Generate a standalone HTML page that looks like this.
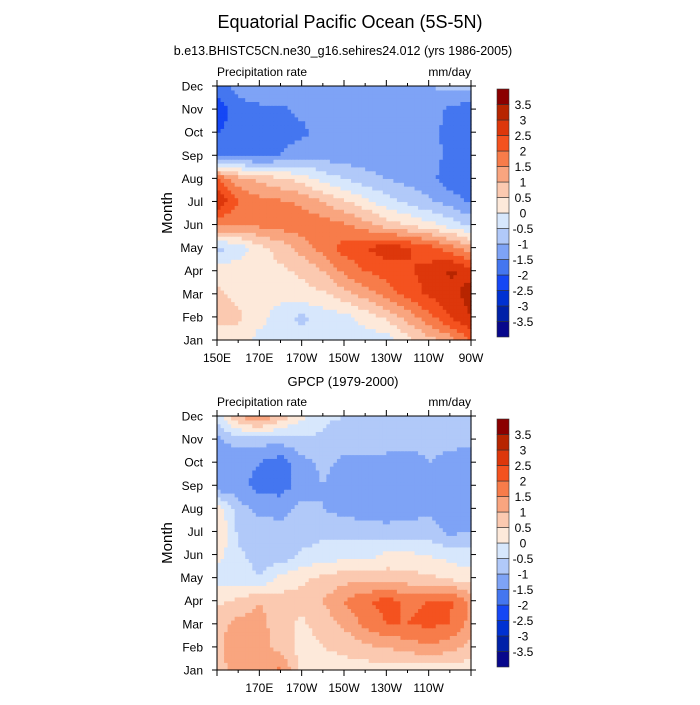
<!DOCTYPE html>
<html><head><meta charset="utf-8">
<style>
body{margin:0;background:#fff;}
svg text{font-family:"Liberation Sans",sans-serif;fill:#000;}
</style></head>
<body>
<svg id="chart" width="700" height="700" viewBox="0 0 700 700">
<text x="350" y="28" font-size="18" text-anchor="middle">Equatorial Pacific Ocean (5S-5N)</text>
<text x="343" y="55" font-size="12.5" text-anchor="middle">b.e13.BHISTC5CN.ne30_g16.sehires24.012 (yrs 1986-2005)</text>
<text x="343" y="386" font-size="13" text-anchor="middle">GPCP (1979-2000)</text>
<g id="p1"></g>
<g id="p2"></g>
</svg>
<script>
const months = ["Jan","Feb","Mar","Apr","May","Jun","Jul","Aug","Sep","Oct","Nov","Dec"];
const lons = [150,160,170,180,190,200,210,220,230,240,250,260,270];
const levels = [-3.5,-3,-2.5,-2,-1.5,-1,-0.5,0,0.5,1,1.5,2,2.5,3,3.5];
const levelLabels = ["-3.5","-3","-2.5","-2","-1.5","-1","-0.5","0","0.5","1","1.5","2","2.5","3","3.5"];
const colors = ["#08088c","#0021a8","#0031d2","#1547f5","#4476f0","#7ea3f6","#b1c9f9","#d7e7fc","#fde9da","#fbc9b0","#f9a57f","#f77c4a","#f4521f","#dd370b","#b72500","#8b0000"];
const xTickLons = [150,170,190,210,230,250,270];
const xTickLabels1 = ["150E","170E","170W","150W","130W","110W","90W"];
const xTickLabels2 = ["","170E","170W","150W","130W","110W",""];
const modelVals = [
[0.2,0.2,-0.2,-0.3,-0.3,-0.3,-0.3,-0.3,-0.3,0.3,0.8,1.2,2.0],
[0.7,0.6,0.2,-0.3,-0.6,-0.3,-0.2,0.2,0.6,1.2,1.8,2.5,3.0],
[0.6,0.4,0.2,0.2,0.3,0.4,0.8,1.2,1.7,2.2,2.6,2.8,3.2],
[0.3,0.3,0.3,0.4,0.6,1.0,1.6,2.0,2.2,2.4,2.7,3.1,2.8],
[-0.7,-0.3,0.3,0.7,1.2,1.7,2.2,2.5,2.8,2.6,2.2,1.8,1.2],
[1.6,1.5,1.6,1.7,1.8,1.8,1.6,1.2,0.8,0.5,0.2,-0.2,-0.6],
[3.0,2.0,1.7,1.6,1.4,1.0,0.6,0.2,-0.3,-0.6,-0.9,-1.2,-1.6],
[2.0,1.2,0.9,0.6,0.3,-0.2,-0.5,-0.8,-1.0,-1.2,-1.3,-1.8,-2.0],
[-1.6,-1.6,-1.7,-1.5,-1.2,-1.2,-1.3,-1.3,-1.3,-1.3,-1.3,-1.6,-2.0],
[-2.0,-1.9,-1.8,-1.7,-1.6,-1.4,-1.3,-1.3,-1.3,-1.3,-1.3,-1.7,-2.0],
[-2.3,-1.7,-1.6,-1.6,-1.4,-1.2,-1.2,-1.2,-1.2,-1.2,-1.2,-1.6,-1.8],
[-1.7,-1.3,-1.2,-1.0,-1.0,-1.2,-1.2,-1.1,-1.0,-1.0,-1.0,-0.9,-0.9]];
const obsVals = [
[0.8,1.2,1.4,1.6,0.3,0.3,0.3,0.2,0.2,0.2,0.2,0.2,0.2],
[0.9,1.3,1.2,0.8,0.3,0.5,0.6,0.9,1.0,1.2,1.4,1.2,0.8],
[0.8,1.2,1.2,0.7,0.4,0.7,1.1,1.6,2.0,2.0,2.1,2.0,1.3],
[0.4,0.6,1.0,0.7,0.7,1.0,1.5,1.9,2.2,1.9,2.0,2.1,1.4],
[-0.3,-0.2,-0.5,0.2,0.4,0.6,0.8,0.8,0.8,0.7,0.6,0.4,0.2],
[0.2,-0.4,-0.7,-0.9,-0.4,-0.3,-0.2,-0.2,0.1,0.1,0.0,-0.2,-0.3],
[0.6,-0.6,-0.8,-0.9,-0.8,-0.6,-0.6,-0.7,-0.8,-0.8,-0.8,-1.1,-1.0],
[0.4,-0.8,-1.1,-1.1,-0.9,-1.0,-1.2,-1.3,-1.3,-1.2,-1.1,-1.3,-1.0],
[-1.4,-1.3,-1.7,-1.8,-1.2,-1.0,-1.2,-1.4,-1.4,-1.4,-1.1,-1.4,-1.1],
[-1.2,-1.3,-1.5,-1.8,-1.2,-0.9,-1.1,-1.2,-1.2,-1.3,-1.0,-1.2,-1.3],
[-1.1,-0.8,-0.8,-0.8,-0.6,-0.6,-0.8,-0.7,-0.7,-0.8,-0.8,-0.8,-0.9],
[-0.4,1.0,1.6,0.8,0.1,-0.4,-0.5,-0.5,-0.6,-0.6,-0.6,-0.6,-0.6]];

const NS="http://www.w3.org/2000/svg";
function mk(tag,attrs,parent){const e=document.createElementNS(NS,tag);for(const k in attrs)e.setAttribute(k,attrs[k]);parent.appendChild(e);return e;}
function colorFor(v){let i=0;while(i<levels.length&&v>=levels[i])i++;return colors[i];}

function panel(g,vals,top,xLabels){
  const L=217,R=471,T=top,B=top+254;
  const xs=lon=>L+(lon-lons[0])/(lons[lons.length-1]-lons[0])*(R-L);
  const ys=m=>B-m/(months.length-1)*(B-T);
  const sub=6;
  const nx=(lons.length-1)*sub, ny=(months.length-1)*sub;
  const dx=(R-L)/nx, dy=(B-T)/ny;
  const cg=mk('g',{},g);
  
  
  for(let j=0;j<ny;j++){
    for(let i=0;i<nx;i++){
      const fx=(i+0.5)/sub, fy=(j+0.5)/sub;
      const i0=Math.floor(fx), j0=Math.floor(fy), tx=fx-i0, ty=fy-j0;
      const v=(1-tx)*(1-ty)*vals[j0][i0]+tx*(1-ty)*vals[j0][i0+1]+(1-tx)*ty*vals[j0+1][i0]+tx*ty*vals[j0+1][i0+1];
      const lon=lons[0]+fx*(lons[1]-lons[0]);
      const x0=xs(lons[0]+i/sub*(lons[1]-lons[0]));
      const y1=ys(j/sub);
      const r=mk('rect',{x:x0.toFixed(2),y:(y1-dy).toFixed(2),width:(dx+0.6).toFixed(2),height:(dy+0.6).toFixed(2),fill:colorFor(v)},cg);
      
      
    }
  }
  const f=mk('rect',{x:L,y:T,width:R-L,height:B-T,fill:'none',stroke:'#000','stroke-width':1},g);
  
  
  months.forEach((m,k)=>{
    const y=ys(k);
    mk('line',{x1:L-5,x2:L,y1:y,y2:y,stroke:'#000'},g);
    mk('line',{x1:R,x2:R+5,y1:y,y2:y,stroke:'#000'},g);
    const t=mk('text',{x:L-14,y:y+4.5,'font-size':12,'text-anchor':'end'},g);
    t.textContent=m;
    
    
  });
  for(let lon=150;lon<=270;lon+=10){
    const x=xs(lon), maj=(lon-150)%20===0, len=maj?6:3;
    mk('line',{x1:x,x2:x,y1:B,y2:B+len,stroke:'#000'},g);
    mk('line',{x1:x,x2:x,y1:T-len,y2:T,stroke:'#000'},g);
  }
  xTickLons.forEach((lon,k)=>{
    if(!xLabels[k])return;
    const t=mk('text',{x:xs(lon),y:B+22,'font-size':12,'text-anchor':'middle'},g);
    t.textContent=xLabels[k];
    
    
  });
  const yt=mk('text',{x:0,y:0,'font-size':15,'text-anchor':'middle',transform:`translate(172,${(T+B)/2}) rotate(-90)`},g);
  yt.textContent='Month';
  
  
  const pl=mk('text',{x:L,y:T-10,'font-size':12},g);
  pl.textContent='Precipitation rate';
  
  
  const ul=mk('text',{x:R,y:T-10,'font-size':12,'text-anchor':'end'},g);
  ul.textContent='mm/day';
  
  
  // colorbar
  const cb=mk('g',{},g);
  
  
  const cx=497,cw=12,cT=T+3,cB=B-3,bh=(cB-cT)/colors.length;
  for(let k=0;k<colors.length;k++){
    const r=mk('rect',{x:cx,y:cB-(k+1)*bh,width:cw,height:bh,fill:colors[k],stroke:'#333','stroke-width':0.6},cb);
    
    
  }
  levelLabels.forEach((lb,k)=>{
    const y=cB-(k+1)*bh;
    const t=mk('text',{x:523,y:y+4.5,'font-size':12,'text-anchor':'middle'},cb);
    t.textContent=lb;
    
    
  });
}
panel(document.getElementById('p1'),modelVals,86,xTickLabels1);
panel(document.getElementById('p2'),obsVals,416,xTickLabels2);
</script>
</body></html>
